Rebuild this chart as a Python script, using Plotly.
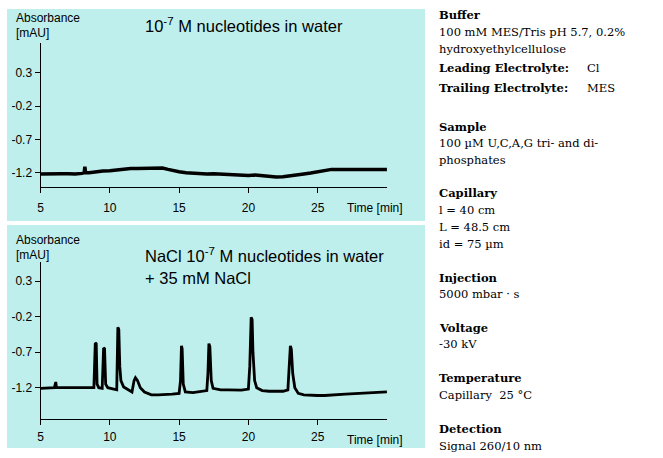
import plotly.graph_objects as go

W, H = 663, 458

# ---- data ----
top_time = [5.0, 5.5, 6.0, 6.5, 7.0, 7.5, 8.0, 8.15, 8.2, 8.25, 8.5, 9.0, 9.5, 10.0, 10.5, 11.0,
            11.5, 12.0, 12.5, 13.0, 13.5, 13.8, 14.2, 14.6, 15.0, 15.5, 16.0, 16.5, 17.0, 17.5,
            18.0, 18.5, 19.0, 19.5, 20.0, 20.5, 21.0, 21.5, 22.0, 22.5, 23.0, 23.5, 24.0, 24.5,
            25.0, 25.5, 26.0, 26.5, 27.0, 27.5, 28.0, 28.5, 29.0, 29.5, 30.0]
top_abs = [-1.22, -1.215, -1.21, -1.215, -1.215, -1.22, -1.21, -1.2, -1.11, -1.2, -1.2, -1.185,
           -1.175, -1.17, -1.155, -1.14, -1.135, -1.135, -1.13, -1.125, -1.125, -1.13, -1.15,
           -1.17, -1.185, -1.2, -1.21, -1.22, -1.22, -1.215, -1.22, -1.23, -1.24, -1.245,
           -1.24, -1.235, -1.245, -1.25, -1.265, -1.26, -1.25, -1.235, -1.22, -1.205, -1.19,
           -1.17, -1.15, -1.15, -1.15, -1.155, -1.155, -1.15, -1.15, -1.15, -1.15]

bot_time = [5.0, 5.5, 6.0, 6.1, 6.15, 6.5, 7.0, 7.5, 8.0, 8.5, 8.85, 8.95, 9.02, 9.08, 9.2,
            9.45, 9.55, 9.62, 9.7, 9.85, 10.2, 10.5, 10.58, 10.65, 10.72, 10.8, 11.0, 11.3,
            11.6, 11.75, 11.85, 12.0, 12.2, 12.5, 13.0, 13.5, 14.0, 14.5, 15.0, 15.1, 15.17,
            15.22, 15.3, 15.45, 16.0, 16.5, 17.0, 17.08, 17.15, 17.22, 17.32, 17.45, 18.0,
            18.5, 19.0, 19.5, 20.0, 20.1, 20.2, 20.27, 20.33, 20.45, 20.6, 21.0, 21.5, 22.0,
            22.5, 22.85, 22.95, 23.03, 23.1, 23.2, 23.35, 23.6, 24.0, 24.5, 25.0, 25.5, 26.0,
            26.5, 27.0, 28.0, 29.0, 30.0]
bot_abs = [-1.21, -1.2, -1.2, -1.12, -1.2, -1.2, -1.2, -1.195, -1.2, -1.2, -1.2, -0.57, -0.58,
           -1.15, -1.2, -1.21, -0.64, -0.65, -1.15, -1.2, -1.22, -1.23, -0.35, -0.38, -0.9,
           -1.1, -1.19, -1.23, -1.26, -1.1, -1.06, -1.1, -1.2, -1.26, -1.3, -1.3, -1.3, -1.29,
           -1.28, -1.1, -0.61, -0.65, -1.15, -1.26, -1.27, -1.26, -1.24, -1.0, -0.58, -0.62,
           -1.1, -1.21, -1.23, -1.23, -1.23, -1.235, -1.22, -0.9, -0.21, -0.24, -0.7, -1.1,
           -1.2, -1.24, -1.25, -1.25, -1.25, -1.23, -0.85, -0.61, -0.66, -1.0, -1.2, -1.28,
           -1.3, -1.31, -1.31, -1.31, -1.3, -1.3, -1.29, -1.28, -1.27, -1.26]

x_ticks = [5, 10, 15, 20, 25]
y_ticks = [0.3, -0.2, -0.7, -1.2]
y_tick_text = ["0.3", "-0.2", "-0.7", "-1.2"]

info_lines = [
    ("Buffer", True, 15), ("100 mM MES/Tris pH 5.7, 0.2%", False, 32),
    ("hydroxyethylcellulose", False, 49),
    ("Leading Electrolyte:", True, 68), ("Trailing Electrolyte:", True, 88),
    ("Sample", True, 127), ("100 \u00b5M U,C,A,G tri- and di-", False, 143),
    ("phosphates", False, 160),
    ("Capillary", True, 193), ("l = 40 cm", False, 210), ("L = 48.5 cm", False, 227),
    ("id = 75 \u00b5m", False, 244),
    ("Injection", True, 278), ("5000 mbar \u00b7 s", False, 294),
    ("Voltage", True, 328), ("-30 kV", False, 344),
    ("Temperature", True, 378), ("Capillary  25 \u00b0C", False, 395),
    ("Detection", True, 429), ("Signal 260/10 nm", False, 446),
]
info_values = [("Cl", 68), ("MES", 88)]

# ---- helpers ----
def px(x):
    return x / W

def py(y):
    return (H - y) / H

SANS = "Liberation Sans, Arial, sans-serif"
SERIF = "DejaVu Serif, serif"
BG = "#BFEFEC"

fig = go.Figure()
fig.add_trace(go.Scatter(x=top_time, y=top_abs, mode="lines",
                         line=dict(color="black", width=3.5), xaxis="x", yaxis="y",
                         showlegend=False, hoverinfo="skip"))
fig.add_trace(go.Scatter(x=bot_time, y=bot_abs, mode="lines",
                         line=dict(color="black", width=2.8), xaxis="x2", yaxis="y2",
                         showlegend=False, hoverinfo="skip"))

axis_common = dict(showline=True, linecolor="black", linewidth=1, ticks="outside",
                   ticklen=5, tickcolor="black", tickwidth=1, showgrid=False,
                   zeroline=False, tickfont=dict(family=SANS, size=12, color="black"))

xdom = [px(37.7), px(385.7)]
fig.update_layout(
    width=W, height=H, margin=dict(l=0, r=0, t=0, b=0),
    paper_bgcolor="white", plot_bgcolor="rgba(0,0,0,0)",
    xaxis=dict(domain=xdom, range=[5, 30], anchor="y", tickvals=x_ticks,
               ticklabelstandoff=5, **axis_common),
    yaxis=dict(domain=[py(187), py(43)], range=[-1.414, 0.745], anchor="x",
               tickvals=y_ticks, ticktext=y_tick_text, **axis_common),
    xaxis2=dict(domain=xdom, range=[5, 30], anchor="y2", tickvals=x_ticks,
                ticklabelstandoff=1, **axis_common),
    yaxis2=dict(domain=[py(419.3), py(262)], range=[-1.645, 0.57], anchor="x2",
                tickvals=y_ticks, ticktext=y_tick_text, **axis_common),
)

shapes = [
    dict(type="rect", xref="paper", yref="paper", x0=px(4), x1=px(424), y0=py(221), y1=py(9),
         fillcolor=BG, line=dict(width=0), layer="below"),
    dict(type="rect", xref="paper", yref="paper", x0=px(4), x1=px(424), y0=py(448), y1=py(225),
         fillcolor=BG, line=dict(width=0), layer="below"),
]
fig.update_layout(shapes=shapes)

ann = []
def add_text(text, x, y, size, family=SANS, xanchor="left", yanchor="middle"):
    ann.append(dict(text=text, x=px(x), y=py(y), xref="paper", yref="paper",
                    xanchor=xanchor, yanchor=yanchor, showarrow=False, align="left",
                    font=dict(family=family, size=size, color="black")))

for yoff in (0, 222):
    add_text("Absorbance", 11, 18 + yoff, 12)
    add_text("[mAU]", 11, 33 + yoff, 12)
add_text("Time [min]", 404, 208, 12, xanchor="right")
add_text("Time [min]", 404, 440, 12, xanchor="right")
add_text("10<sup>-7</sup> M nucleotides in water", 141, 25, 16.5)
add_text("NaCl 10<sup>-7</sup> M nucleotides in water", 141, 255, 16.5)
add_text("+ 35 mM NaCl", 141, 278, 16.5)

for text, bold, y in info_lines:
    add_text(f"<b>{text}</b>" if bold else text, 436, y, 11.5, family=SERIF)
for text, y in info_values:
    add_text(text, 585, y, 11.5, family=SERIF)

fig.update_layout(annotations=ann)
fig.write_html("out.html")
